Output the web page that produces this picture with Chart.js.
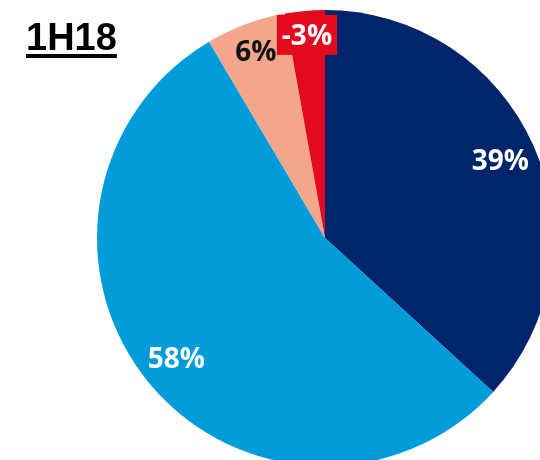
<!DOCTYPE html>
<html>
<head>
<meta charset="utf-8">
<script src="https://cdn.jsdelivr.net/npm/chart.js@4/dist/chart.umd.min.js"></script>
<style>
  html, body { margin: 0; padding: 0; background: #fff; overflow: hidden; }
  #wrap { position: relative; width: 540px; height: 460px; overflow: hidden; }
  #myChart { position: absolute; left: 0; top: 0; }
  #title {
    position: absolute; left: 26px; top: 17px;
    font-family: "Liberation Sans", Arial, sans-serif; font-weight: bold;
    font-size: 38px; line-height: 40px; color: #000;
    text-decoration: underline; text-decoration-thickness: 4px; text-underline-offset: 4px;
  }
</style>
</head>
<body>
<div id="wrap">
  <canvas id="myChart" width="560" height="480"></canvas>
  <div id="title">1H18</div>
</div>
<script>
var segmentos = ['A', 'B', 'C', 'D'];
var valores = [39, 58, 6, -3];
var etiquetas = ['39%', '58%', '6%', '-3%'];
var colores = ['#00256B', '#009CDA', '#F4A68D', '#E30A1F'];

// how far out each label sits (fraction of the radius) and its look
var radioEtiqueta = [0.84, 0.84, 0.87, 0.89];
var colorTexto = ['#fff', '#fff', '#111', '#fff'];
var fondoTexto = [null, null, null, '#E30A1F'];

var pluginEtiquetas = {
  id: 'etiquetas',
  afterDatasetsDraw: function (chart) {
    var ctx = chart.ctx;
    var arcos = chart.getDatasetMeta(0).data;
    ctx.save();
    ctx.font = 'bold 28px "Open Sans", sans-serif';
    ctx.textAlign = 'center';
    ctx.textBaseline = 'middle';
    for (var i = 0; i < arcos.length; i++) {
      var a = arcos[i];
      var medio = (a.startAngle + a.endAngle) / 2;
      var r = a.outerRadius * radioEtiqueta[i];
      var x = a.x + Math.cos(medio) * r;
      var y = a.y + Math.sin(medio) * r;
      if (fondoTexto[i]) {
        var w = ctx.measureText(etiquetas[i]).width + 10;
        ctx.fillStyle = fondoTexto[i];
        ctx.fillRect(x - w / 2, y - 21, w, 40);
      }
      ctx.fillStyle = colorTexto[i];
      ctx.fillText(etiquetas[i], x, y + 1);
    }
    ctx.restore();
  }
};

var ctx = document.getElementById('myChart').getContext('2d');
var myChart = new Chart(ctx, {
  type: 'pie',
  data: {
    labels: segmentos,
    datasets: [{
      data: valores.map(function (v) { return Math.abs(v); }),
      backgroundColor: colores,
      borderWidth: 0
    }]
  },
  options: {
    responsive: false,
    animation: false,
    layout: { padding: { left: 97, top: 10, right: 7, bottom: 14 } },
    plugins: {
      legend: { display: false },
      tooltip: { enabled: false }
    }
  },
  plugins: [pluginEtiquetas]
});
</script>
</body>
</html>
